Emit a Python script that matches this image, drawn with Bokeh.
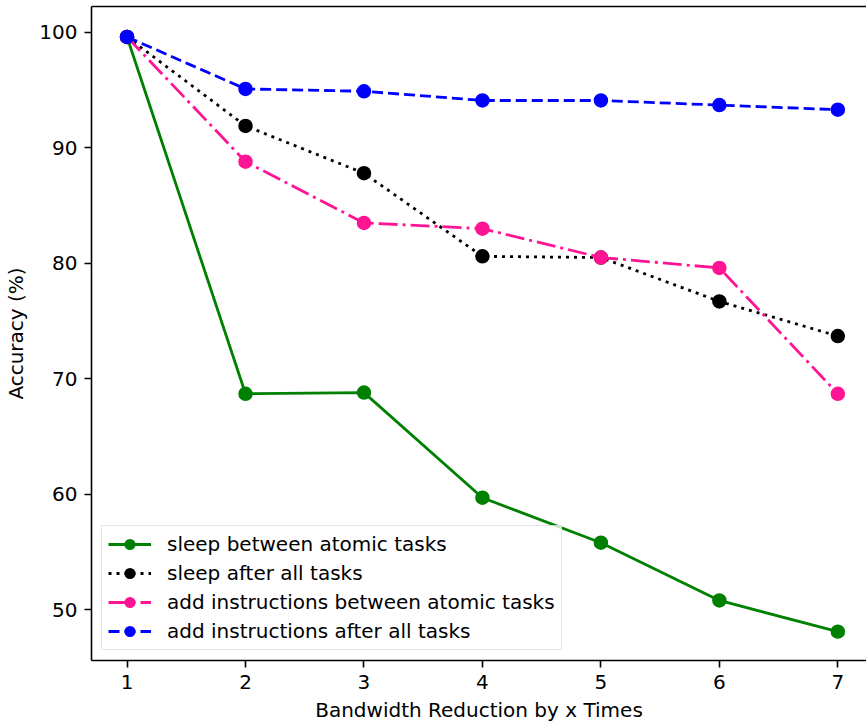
from bokeh.plotting import figure
from bokeh.models import Range1d, FixedTicker, LinearAxis, Legend
from bokeh.embed import file_html
from bokeh.resources import INLINE

x = [1, 2, 3, 4, 5, 6, 7]
sleep_between = [99.6, 68.7, 68.8, 59.7, 55.8, 50.8, 48.1]
sleep_after = [99.6, 91.9, 87.8, 80.6, 80.5, 76.7, 73.7]
instr_between = [99.6, 88.8, 83.5, 83.0, 80.5, 79.6, 68.7]
instr_after = [99.6, 95.1, 94.9, 94.1, 94.1, 93.7, 93.3]
labels = ["sleep between atomic tasks", "sleep after all tasks",
          "add instructions between atomic tasks", "add instructions after all tasks"]
y_ticks = [50, 60, 70, 80, 90, 100]

FONT = "DejaVu Sans"
FS = "20px"

p = figure(width=866, height=727, output_backend="svg", toolbar_location=None,
           x_range=Range1d(0.7, 7.242), y_range=Range1d(45.6, 102.24),
           min_border_left=91, min_border_right=0, min_border_top=6, min_border_bottom=67)
p.outline_line_color = None
p.xgrid.visible = False
p.ygrid.visible = False

series = [
    (sleep_between, "#008000", "solid"),
    (sleep_after, "#000000", "3 5"),
    (instr_between, "#FF1493", "19 5 3 5"),
    (instr_after, "#0000FF", "11 5"),
]
items = []
for (ys, col, dash), lab in zip(series, labels):
    l = p.line(x, ys, line_color=col, line_width=2.8, line_dash=dash)
    s = p.scatter(x, ys, size=13, fill_color=col, line_color=col, line_width=1.5)
    items.append((lab, [l, s]))

legend = Legend(items=items, location="bottom_left", margin=10, padding=6,
                spacing=5, glyph_width=43, glyph_height=24, label_height=24,
                label_standoff=16, label_text_font=FONT, label_text_font_size=FS,
                label_text_color="#000000",
                border_line_color="#cccccc", border_line_width=1.5,
                background_fill_color="white", background_fill_alpha=0.8)
p.add_layout(legend)

for ax in (p.xaxis[0], p.yaxis[0]):
    ax.axis_line_color = "black"
    ax.axis_line_width = 1.6
    ax.major_tick_line_color = "black"
    ax.major_tick_line_width = 1.6
    ax.major_tick_out = 7
    ax.major_tick_in = 0
    ax.minor_tick_line_color = None
    ax.major_label_text_font = FONT
    ax.major_label_text_font_size = FS
    ax.major_label_text_color = "#000000"
    ax.axis_label_text_font = FONT
    ax.axis_label_text_font_size = FS
    ax.axis_label_text_font_style = "normal"
    ax.axis_label_text_color = "#000000"
    ax.major_label_standoff = 7

p.xaxis[0].ticker = FixedTicker(ticks=x)
p.yaxis[0].ticker = FixedTicker(ticks=y_ticks)
p.xaxis[0].axis_label = "Bandwidth Reduction by x Times"
p.yaxis[0].axis_label = "Accuracy (%)"
p.xaxis[0].axis_label_standoff = 6
p.yaxis[0].axis_label_standoff = 8

top = LinearAxis(ticker=FixedTicker(ticks=[]), major_label_text_font_size="0px",
                 major_tick_out=0, major_tick_in=0, minor_tick_line_color=None,
                 axis_line_color="black", axis_line_width=1.6)
p.add_layout(top, "above")

open("out.html", "w").write(file_html(p, INLINE))
